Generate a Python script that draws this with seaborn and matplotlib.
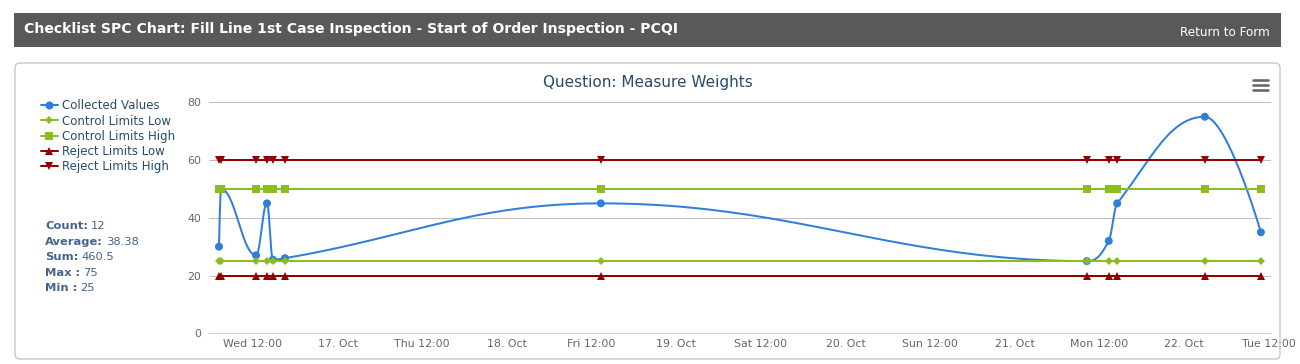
import matplotlib
matplotlib.use("Agg")
import matplotlib.pyplot as plt
import matplotlib.dates as mdates
from matplotlib.lines import Line2D
from matplotlib.patches import Rectangle, FancyBboxPatch
from matplotlib.ticker import FixedLocator, FuncFormatter
import numpy as np
import pandas as pd
import seaborn as sns

# --- data --------------------------------------------------------------------
times = pd.to_datetime([
    "2019-10-16 07:11", "2019-10-16 07:28", "2019-10-16 12:26",
    "2019-10-16 13:59", "2019-10-16 14:50", "2019-10-16 16:32",
    "2019-10-18 13:19", "2019-10-21 10:12", "2019-10-21 13:18",
    "2019-10-21 14:30", "2019-10-22 02:55", "2019-10-22 10:52",
])
collected = [30, 50, 27, 45, 25.5, 26, 45, 25, 32, 45, 75, 35]

CONTROL_LOW = 25
CONTROL_HIGH = 50
REJECT_LOW = 20
REJECT_HIGH = 60

y_ticks = [0, 20, 40, 60, 80]
x_ticks = pd.date_range("2019-10-16 12:00", "2019-10-22 12:00", freq="12h")
x_range = (pd.Timestamp("2019-10-16 05:46"), pd.Timestamp("2019-10-22 12:18"))

HEADER = "Checklist SPC Chart: Fill Line 1st Case Inspection - Start of Order Inspection - PCQI"
TITLE = "Question: Measure Weights"

BLUE, GREEN, RED = "#2f7ed8", "#8bbc21", "#910000"
NAVY = "#274b6d"
W, H = 1300, 364
PT = 0.72  # points per pixel at dpi 100


def spline_path(xs, ys, n=50):
    """Highcharts-style spline: cubic beziers with smoothing 1.5."""
    sm = 1.5
    den = sm + 1
    m = len(xs)
    lc, rc = [None] * m, [None] * m
    for i in range(1, m - 1):
        px, py = xs[i], ys[i]
        lx, ly = xs[i - 1], ys[i - 1]
        nx, ny = xs[i + 1], ys[i + 1]
        lcx, lcy = (sm * px + lx) / den, (sm * py + ly) / den
        rcx, rcy = (sm * px + nx) / den, (sm * py + ny) / den
        if rcx != lcx:
            corr = (rcy - lcy) * (rcx - px) / (rcx - lcx) + py - rcy
            lcy += corr
            rcy += corr
            if lcy > ly and lcy > py:
                lcy = max(ly, py); rcy = 2 * py - lcy
            elif lcy < ly and lcy < py:
                lcy = min(ly, py); rcy = 2 * py - lcy
            if rcy > ny and rcy > py:
                rcy = max(ny, py); lcy = 2 * py - rcy
            elif rcy < ny and rcy < py:
                rcy = min(ny, py); lcy = 2 * py - rcy
        lc[i], rc[i] = (lcx, lcy), (rcx, rcy)
    t = np.linspace(0, 1, n)[1:]
    out_x, out_y = [xs[0]], [ys[0]]
    for i in range(m - 1):
        p0, p3 = (xs[i], ys[i]), (xs[i + 1], ys[i + 1])
        p1 = rc[i] or p0
        p2 = lc[i + 1] or p3
        for k, out in ((0, out_x), (1, out_y)):
            b = ((1 - t) ** 3 * p0[k] + 3 * (1 - t) ** 2 * t * p1[k]
                 + 3 * (1 - t) * t ** 2 * p2[k] + t ** 3 * p3[k])
            out.extend(b)
    return np.array(out_x), np.array(out_y)


sns.set_style("white")
plt.rcParams["font.family"] = ["DejaVu Sans"]

fig = plt.figure(figsize=(W / 100, H / 100), dpi=100)

# page furniture in pixel coordinates
bg = fig.add_axes([0, 0, 1, 1])
bg.set_xlim(0, W); bg.set_ylim(H, 0); bg.axis("off")
bg.add_patch(Rectangle((14, 13), 1267, 34, color="#595959", lw=0))
bg.text(24, 29, HEADER, color="white", fontsize=14 * PT, fontweight="bold", va="center")
bg.text(1270, 32, "Return to Form", color="white", fontsize=12 * PT, va="center", ha="right")
bg.add_patch(FancyBboxPatch((15, 63), 1265, 296, boxstyle="round,pad=0,rounding_size=5",
                            facecolor="white", edgecolor="#c8c8c8", lw=1))
for yy in (79.5, 84.5, 89.5):
    bg.plot([1253, 1268], [yy, yy], color="#666666", lw=2.6 * PT, solid_capstyle="round")
bg.text(648, 82, TITLE, color=NAVY, fontsize=15.3 * PT, ha="center", va="center")

# chart
ax = fig.add_axes([209 / W, 1 - 333.3 / H, (1271 - 209) / W, (333.3 - 102.3) / H])
ax.set_zorder(1)
ax.patch.set_alpha(0)

hours = ((times - times[0]) / pd.Timedelta(hours=1)).to_numpy()
cx, cy = spline_path(hours, np.array(collected, dtype=float))
curve = pd.DataFrame({"time": times[0] + pd.to_timedelta(cx, unit="h"), "value": cy})
points = pd.DataFrame({"time": times, "value": collected})

sns.lineplot(data=curve, x="time", y="value", sort=False, estimator=None,
             color=BLUE, lw=2 * PT, ax=ax, zorder=2)
sns.scatterplot(data=points, x="time", y="value", color=BLUE, s=(8 * PT) ** 2,
                edgecolor="none", ax=ax, zorder=2.1)

limits = [
    ("Control Limits Low", [CONTROL_LOW] * len(times), GREEN, "D", 5.8),
    ("Control Limits High", [CONTROL_HIGH] * len(times), GREEN, "s", 8),
    ("Reject Limits Low", [REJECT_LOW] * len(times), RED, "^", 8),
    ("Reject Limits High", [REJECT_HIGH] * len(times), RED, "v", 8),
]
handles = [Line2D([], [], color=BLUE, lw=2 * PT, marker="o", ms=8 * PT, mew=0)]
labels = ["Collected Values"]
for z, (name, vals, col, mk, size) in enumerate(limits):
    sns.lineplot(x=times, y=vals, color=col, lw=2 * PT, marker=mk, markersize=size * PT,
                 markeredgewidth=0, ax=ax, zorder=3 + z)
    handles.append(Line2D([], [], color=col, lw=2 * PT, marker=mk, ms=size * PT, mew=0))
    labels.append(name)

ax.set_xlim(*x_range)
ax.set_ylim(0, 80)
ax.set_yticks(y_ticks)
ax.xaxis.set_major_locator(FixedLocator(mdates.date2num(x_ticks)))


def _tick_label(v, pos):
    d = mdates.num2date(v)
    return d.strftime("%d. %b") if d.hour == 0 else d.strftime("%a %H:%M")


ax.xaxis.set_major_formatter(FuncFormatter(_tick_label))
ax.set_xlabel(""); ax.set_ylabel("")
ax.yaxis.grid(True, color="#c0c0c0", lw=1 * PT)
ax.set_axisbelow(True)
for side in ("top", "right", "left"):
    ax.spines[side].set_visible(False)
ax.spines["bottom"].set_color("#c0d0e0")
ax.spines["bottom"].set_linewidth(1 * PT)
ax.tick_params(axis="y", length=0, pad=8 * PT, labelsize=11 * PT, labelcolor="#666666")
ax.tick_params(axis="x", length=5 * PT, width=1 * PT, color="#c0d0e0", pad=1 * PT,
               labelsize=11 * PT, labelcolor="#666666", direction="out")
if ax.get_legend():
    ax.get_legend().remove()

fig.legend(handles, labels, loc="upper left", bbox_to_anchor=(41 / W, 1 - 99.5 / H),
           frameon=False, fontsize=11.8 * PT, labelcolor=NAVY, handlelength=1.4,
           handletextpad=0.4, labelspacing=0.18, borderaxespad=0, borderpad=0)

# summary block
stats = [
    ("Count:", f"{len(collected)}"),
    ("Average:", f"{np.mean(collected):.2f}"),
    ("Sum:", f"{sum(collected):g}"),
    ("Max :", f"{max(collected):g}"),
    ("Min :", f"{min(collected):g}"),
]
renderer = fig.canvas.get_renderer()
for i, (lab, val) in enumerate(stats):
    y = 226 + i * 15.6
    t = bg.text(45, y, lab, color="#44648c", fontsize=11.5 * PT, fontweight="bold", va="center")
    ext = t.get_window_extent(renderer)
    x_end = bg.transData.inverted().transform((ext.x1, ext.y0))[0]
    bg.text(x_end + 3, y, val, color="#44648c", fontsize=11.5 * PT, va="center")

fig.savefig("out.png", dpi=100)
